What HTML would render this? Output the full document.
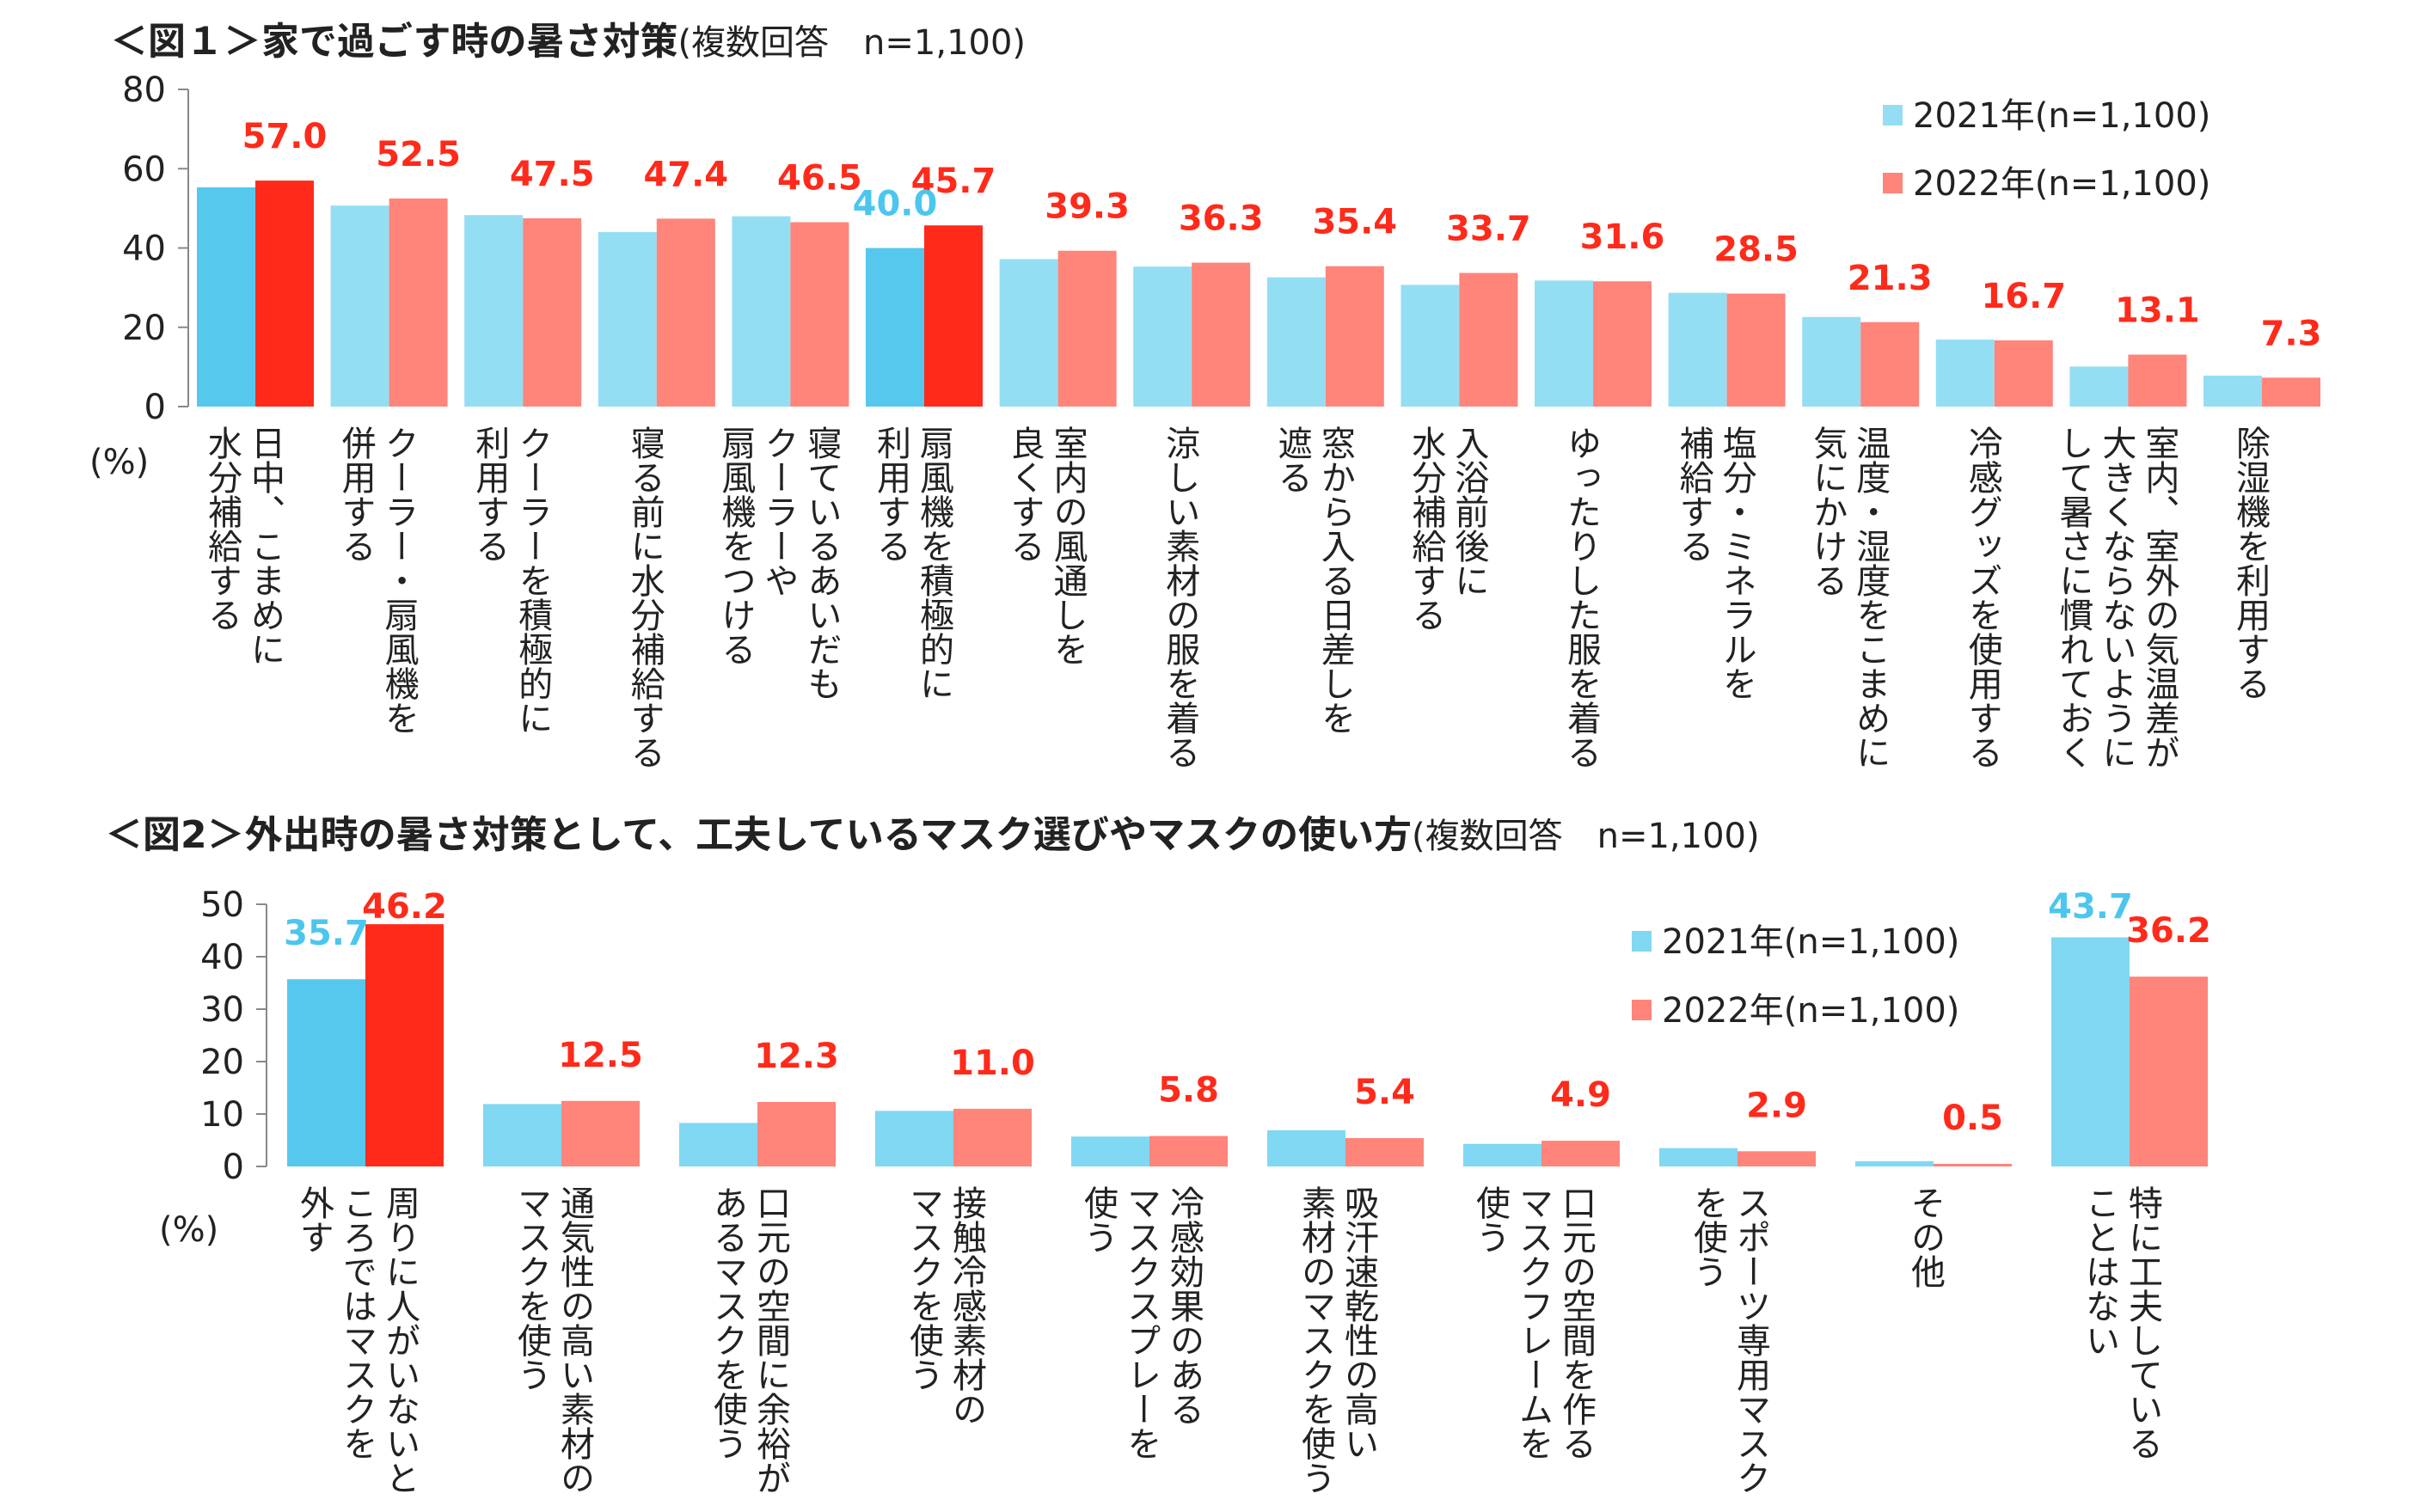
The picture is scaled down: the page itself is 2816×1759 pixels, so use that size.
<!DOCTYPE html>
<html><head><meta charset="utf-8">
<style>
html,body{margin:0;padding:0;background:#fff;}
#root{position:relative;width:2816px;height:1759px;overflow:hidden;font-family:"DejaVu Sans","Noto Sans CJK JP",sans-serif;color:#222;}
.title{position:absolute;font-weight:bold;font-size:44px;white-space:nowrap;line-height:1;font-family:"DejaVu Sans","Noto Sans CJK JP",sans-serif;}
.title span{font-weight:normal;font-size:40px;}
.cat{position:absolute;writing-mode:vertical-rl;font-size:40px;line-height:50px;white-space:nowrap;color:#222;font-family:"Noto Sans CJK JP",sans-serif;}
.pct{position:absolute;font-size:40px;}
svg{position:absolute;left:0;top:0;}
</style></head>
<body>
<div id="root">
<div class="title" style="left:128px;top:27px;">＜図１＞家で過ごす時の暑さ対策<span>(複数回答　n=1,100)</span></div>
<div class="title" style="left:122px;top:950px;">＜図2＞外出時の暑さ対策として、工夫しているマスク選びやマスクの使い方<span>(複数回答　n=1,100)</span></div>
<div class="pct" style="left:104px;top:515px;">(%)</div>
<div class="pct" style="left:185px;top:1408px;">(%)</div>
<svg id="svg" width="2816" height="1759"></svg>
</div>
<script>
const cats1 = ["日中、こまめに\n水分補給する","クーラー・扇風機を\n併用する","クーラーを積極的に\n利用する","寝る前に水分補給する","寝ているあいだも\nクーラーや\n扇風機をつける","扇風機を積極的に\n利用する","室内の風通しを\n良くする","涼しい素材の服を着る","窓から入る日差しを\n遮る","入浴前後に\n水分補給する","ゆったりした服を着る","塩分・ミネラルを\n補給する","温度・湿度をこまめに\n気にかける","冷感グッズを使用する","室内、室外の気温差が\n大きくならないように\nして暑さに慣れておく","除湿機を利用する"];
const vals1_2021 = [55.3,50.7,48.3,44.0,48.0,40.0,37.2,35.3,32.6,30.7,31.8,28.7,22.6,16.9,10.1,7.8];
const vals1_2022 = [57.0,52.5,47.5,47.4,46.5,45.7,39.3,36.3,35.4,33.7,31.6,28.5,21.3,16.7,13.1,7.3];
const hi1 = [0,5];
const blueLabel1 = [5];
const ticks1 = [0,20,40,60,80];

const cats2 = ["周りに人がいないと\nころではマスクを\n外す","通気性の高い素材の\nマスクを使う","口元の空間に余裕が\nあるマスクを使う","接触冷感素材の\nマスクを使う","冷感効果のある\nマスクスプレーを\n使う","吸汗速乾性の高い\n素材のマスクを使う","口元の空間を作る\nマスクフレームを\n使う","スポーツ専用マスク\nを使う","その他","特に工夫している\nことはない"];
const vals2_2021 = [35.7,11.9,8.3,10.6,5.7,6.9,4.3,3.5,1.0,43.7];
const vals2_2022 = [46.2,12.5,12.3,11.0,5.8,5.4,4.9,2.9,0.5,36.2];
const hi2 = [0];
const blueLabel2 = [0,9];
const ticks2 = [0,10,20,30,40,50];
const legendLabels = ["2021年(n=1,100)","2022年(n=1,100)"];

const NS="http://www.w3.org/2000/svg";
const svg=document.getElementById('svg');
const root=document.getElementById('root');
function mk(tag,attrs){const e=document.createElementNS(NS,tag);for(const k in attrs)e.setAttribute(k,attrs[k]);svg.appendChild(e);return e;}
const NUMF='DejaVu Sans, Liberation Sans, sans-serif';

function drawChart(o){
  const y=v=>o.y0-(v-o.min)/(o.max-o.min)*(o.y0-o.yTop);
  const x=i=>o.x0+i*o.pitch;
  const ax=mk('line',{x1:o.axisX,y1:o.yTop,x2:o.axisX,y2:o.y0,stroke:'#888','stroke-width':2});
  
  
  o.ticks.forEach(t=>{
    const tl=mk('line',{x1:o.axisX-12,y1:y(t),x2:o.axisX,y2:y(t),stroke:'#888','stroke-width':2});
    
    
    const tx=mk('text',{x:o.axisX-26,y:y(t)+14,'text-anchor':'end','font-size':40,fill:'#222','font-family':NUMF});
    tx.textContent=t;
    
    
  });
  o.cats.forEach((c,i)=>{
    const hi=o.hi.includes(i);
    const b=mk('rect',{x:x(i),y:y(o.a[i]),width:o.bw,height:o.y0-y(o.a[i]),fill:hi?'#56C8EE':o.lb});
    
    
    const r=mk('rect',{x:x(i)+o.bw,y:y(o.b[i]),width:o.bw,height:o.y0-y(o.b[i]),fill:hi?'#FF2A1A':'#FF847A'});
    
    
    let vy=Math.max(y(o.b[i])-o.lab, o.yTop+16);
    const vt=mk('text',{x:x(i)+o.bw*1.5,y:vy,'text-anchor':'middle','font-size':40,'font-weight':'bold',fill:'#FF2A1A','font-family':NUMF});
    vt.textContent=o.b[i].toFixed(1);
    
    
    if(o.blue.includes(i)){
      const bt=mk('text',{x:x(i)+o.bw*0.5,y:Math.max(y(o.a[i])-o.lab,o.yTop+16),'text-anchor':'middle','font-size':40,'font-weight':'bold',fill:'#4CC6EE','font-family':NUMF});
      bt.textContent=o.a[i].toFixed(1);
      
      
    }
    const d=document.createElement('div');
    d.className='cat';
    
    
    d.innerHTML=c.split('\n').join('<br>');
    root.appendChild(d);
    const w=d.getBoundingClientRect().width;
    d.style.left=(x(i)+o.bw-w/2-o.labShift)+'px';
    d.style.top=(o.y0+o.labTop)+'px';
  });
  legendLabels.forEach((l,k)=>{
    const s=mk('rect',{x:o.legX,y:o.legY+k*o.legGap-12,width:23,height:24,fill:k?'#FF847A':o.lb});
    
    
    const t=mk('text',{x:o.legX+35,y:o.legY+k*o.legGap+14,'font-size':40,fill:'#222','font-family':'DejaVu Sans, Noto Sans CJK JP, sans-serif'});
    t.textContent=l;
    
    
  });
}
drawChart({id:'chart1',cats:cats1,a:vals1_2021,b:vals1_2022,hi:hi1,blue:blueLabel1,ticks:ticks1,min:0,max:80,y0:473,yTop:104,axisX:219,x0:229,pitch:155.6,bw:68,lb:'#94DEF4',labTop:22,labShift:10,lab:38,legX:2190,legY:134,legGap:79});
drawChart({id:'chart2',cats:cats2,a:vals2_2021,b:vals2_2022,hi:hi2,blue:blueLabel2,ticks:ticks2,min:0,max:50,y0:1357,yTop:1052,axisX:310,x0:334,pitch:228,bw:91,lb:'#80D8F2',labTop:22,labShift:6,lab:40,legX:1898,legY:1095,legGap:80});
</script>
</body></html>
